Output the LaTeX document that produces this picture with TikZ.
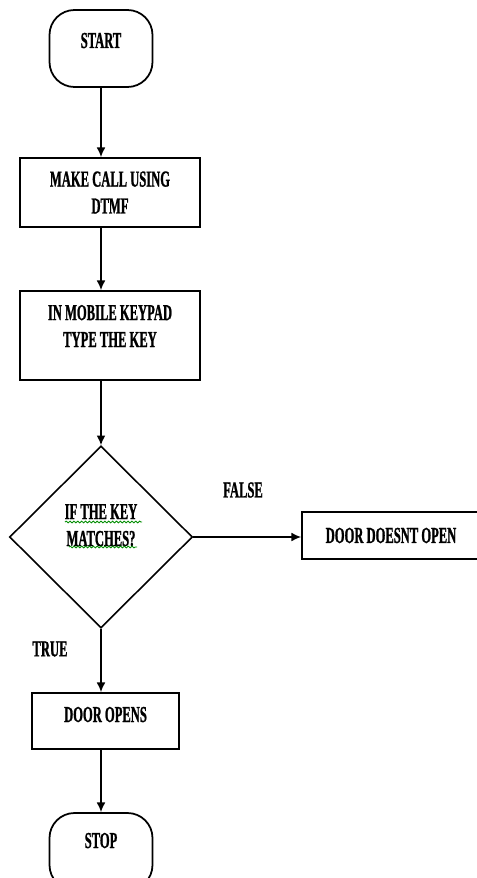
\documentclass[tikz,border=0pt]{standalone}
\usepackage{fontspec}
\setmainfont{Liberation Serif}[FakeStretch=0.55, BoldFeatures={FakeBold=1}]
\usetikzlibrary{shapes.geometric,arrows.meta,decorations.pathmorphing}

\begin{document}
\begin{tikzpicture}[
    font=\fontsize{13}{15.3}\selectfont\bfseries,
    every node/.style={inner sep=0pt},
    term/.style={draw, line width=1pt, rounded corners=0.5cm, minimum width=2.06cm, minimum height=1.54cm},
    proc/.style={draw, line width=1pt, align=center},
    decide/.style={draw, diamond, line width=0.9pt, align=center, minimum width=3.66cm, minimum height=3.64cm},
    flow/.style={->, >={Latex[length=5.5pt,width=5pt]}, line width=0.8pt},
    spell/.style={green!55!black, line width=0.5pt, decorate, decoration={snake, amplitude=0.5pt, segment length=2.2pt}}
  ]
    \useasboundingbox (0,0) rectangle (9.54,-17.56);
    \node[term, text height=0.76cm, text depth=0.78cm] (start) at (2.02,-0.97) {START};
    \node[proc, minimum width=3.6cm, minimum height=1.38cm] (call) at (2.2,-3.85) {MAKE CALL USING\\DTMF};
    \node[proc, minimum width=3.6cm, text height=1.12cm, text depth=0.66cm] (keypad) at (2.2,-6.71) {IN MOBILE KEYPAD\\TYPE THE KEY};
    \node[decide, text height=0.66cm, text depth=0.3cm] (match) at (2.02,-10.74) {IF THE KEY\\MATCHES?};
    \node[proc, minimum width=3.56cm, minimum height=0.94cm] (closed) at (7.82,-10.71) {DOOR DOESNT OPEN};
    \node[proc, minimum width=2.94cm, text height=0.58cm, text depth=0.54cm] (opens) at (2.11,-14.42) {DOOR OPENS};
    \node[term, text height=0.7cm, text depth=0.84cm] (stop) at (2.02,-17.03) {STOP};
    \node (false) at (4.86,-9.8) {FALSE};
    \node (true) at (1.0,-12.98) {TRUE};
    \draw[flow] (start.south) -- (start.south |- call.north);
    \draw[flow] (start.south |- call.south) -- (start.south |- keypad.north);
    \draw[flow] (start.south |- keypad.south) -- (match.north);
    \draw[flow] (match.east) -- (match.east -| closed.west);
    \draw[flow] (match.south) -- (match.south |- opens.north);
    \draw[flow] (match.south |- opens.south) -- (stop.north);
    % spelling marks
    \draw[spell] ([shift={(-0.72,0.3)}]match.center) -- ++(1.54,0);
    \draw[spell] ([shift={(-0.64,-0.2)}]match.center) -- ++(1.36,0);
  \end{tikzpicture}
\end{document}
